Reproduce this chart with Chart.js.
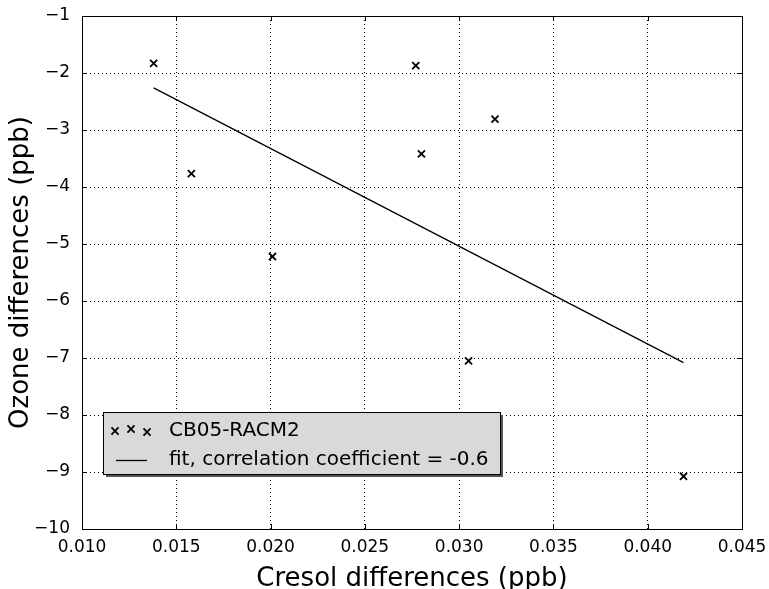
<!DOCTYPE html>
<html>
<head>
<meta charset="utf-8">
<script src="https://cdn.jsdelivr.net/npm/chart.js@4"></script>
<style>
  body { margin: 0; background: #fff; }
  #wrap { width: 769px; height: 589px; }
</style>
</head>
<body>
<div id="wrap"><canvas id="scatterChart" width="769" height="589"></canvas></div>
<script>
const cresolDiff = [0.0138, 0.0158, 0.0201, 0.0277, 0.0280, 0.0319, 0.0305, 0.0419];
const ozoneDiff = [-1.83, -3.765, -5.22, -1.87, -3.42, -2.81, -7.05, -9.075];
const fitX = [0.0138, 0.0419];
const fitY = [-2.26, -7.08];
const xTicks = [0.010, 0.015, 0.020, 0.025, 0.030, 0.035, 0.040, 0.045];
const yTicks = [-10, -9, -8, -7, -6, -5, -4, -3, -2, -1];
const seriesLabel = 'CB05-RACM2';
const fitLabel = 'fit, correlation coefficient = -0.6';

Chart.defaults.font.family = "'DejaVu Sans', sans-serif";
Chart.defaults.color = '#000';

// frame, inward tick marks and the boxed legend, matplotlib style
const frameAndLegend = {
  id: 'frameAndLegend',
  afterDatasetsDraw(chart) {
    const { ctx, chartArea: a, scales } = chart;
    ctx.save();
    ctx.strokeStyle = '#000';
    ctx.lineWidth = 1;
    ctx.beginPath();
    xTicks.forEach((v) => {
      const px = Math.round(scales.x.getPixelForValue(v)) + 0.5;
      ctx.moveTo(px, a.bottom); ctx.lineTo(px, a.bottom - 5);
      ctx.moveTo(px, a.top); ctx.lineTo(px, a.top + 5);
    });
    yTicks.forEach((v) => {
      const py = Math.round(scales.y.getPixelForValue(v)) + 0.5;
      ctx.moveTo(a.left, py); ctx.lineTo(a.left + 5, py);
      ctx.moveTo(a.right, py); ctx.lineTo(a.right - 5, py);
    });
    ctx.stroke();
    ctx.strokeRect(Math.round(a.left) + 0.5, Math.round(a.top) + 0.5,
      Math.round(a.right - a.left), Math.round(a.bottom - a.top));

    // legend box
    const bx = 103, by = 412, bw = 397, bh = 62;
    ctx.fillStyle = '#555';
    ctx.fillRect(bx + 3, by + 3, bw, bh);
    ctx.fillStyle = '#d9d9d9';
    ctx.fillRect(bx, by, bw, bh);
    ctx.strokeRect(bx + 0.5, by + 0.5, bw, bh);

    const ds = chart.data.datasets;
    const markerOpts = { pointStyle: 'crossRot', radius: 5, borderWidth: 1.8 };
    ctx.strokeStyle = '#000';
    [[115, 431], [131, 429], [147, 432]].forEach(([mx, my]) => {
      ctx.lineWidth = 1.8;
      Chart.helpers.drawPoint(ctx, markerOpts, mx, my);
    });
    ctx.lineWidth = 1.3;
    ctx.beginPath();
    ctx.moveTo(116, 460.5); ctx.lineTo(147, 460.5);
    ctx.stroke();

    ctx.fillStyle = '#000';
    ctx.font = "20px 'DejaVu Sans', sans-serif";
    ctx.textBaseline = 'middle';
    ctx.textAlign = 'left';
    ctx.fillText(ds[0].label, 169, 431);
    ctx.fillText(ds[1].label, 169, 460);
    ctx.restore();
  },
};

new Chart(document.getElementById('scatterChart'), {
  type: 'scatter',
  data: {
    datasets: [
      {
        label: seriesLabel,
        data: cresolDiff.map((x, i) => ({ x, y: ozoneDiff[i] })),
        pointStyle: 'crossRot',
        pointRadius: 5,
        pointBorderWidth: 1.8,
        borderColor: '#000',
        backgroundColor: '#000',
      },
      {
        label: fitLabel,
        data: fitX.map((x, i) => ({ x, y: fitY[i] })),
        showLine: true,
        pointRadius: 0,
        borderColor: '#000',
        borderWidth: 1.3,
      },
    ],
  },
  options: {
    responsive: false,
    animation: false,
    layout: { padding: { top: 16, right: 27, left: 0, bottom: 0 } },
    plugins: {
      legend: { display: false },
      tooltip: { enabled: false },
    },
    scales: {
      x: {
        type: 'linear',
        min: 0.010,
        max: 0.045,
        afterBuildTicks: (scale) => { scale.ticks = xTicks.map((value) => ({ value })); },
        afterFit: (scale) => {
          scale.height = 60;
          scale.paddingLeft = 0;
          scale.paddingRight = 0;
        },
        ticks: {
          font: { size: 17 },
          padding: 8,
          callback: (v) => Number(v).toFixed(3),
        },
        grid: { color: '#000', lineWidth: 1, drawTicks: false },
        border: { display: false, dash: [1, 3] },
        title: {
          display: true,
          text: 'Cresol differences (ppb)',
          font: { size: 26 },
          padding: { top: 0, bottom: -6 },
        },
      },
      y: {
        type: 'linear',
        min: -10,
        max: -1,
        afterBuildTicks: (scale) => { scale.ticks = yTicks.map((value) => ({ value })); },
        afterFit: (scale) => {
          scale.width = 82;
          scale.paddingTop = 0;
          scale.paddingBottom = 0;
        },
        ticks: {
          font: { size: 17 },
          padding: 12,
          callback: (v) => (v < 0 ? '\u2212' + Math.abs(v) : String(v)),
        },
        grid: { color: '#000', lineWidth: 1, drawTicks: false },
        border: { display: false, dash: [1, 3] },
        title: {
          display: true,
          text: 'Ozone differences (ppb)',
          font: { size: 26 },
          padding: { top: 6, bottom: 0 },
        },
      },
    },
  },
  plugins: [frameAndLegend],
});
</script>
</body>
</html>
